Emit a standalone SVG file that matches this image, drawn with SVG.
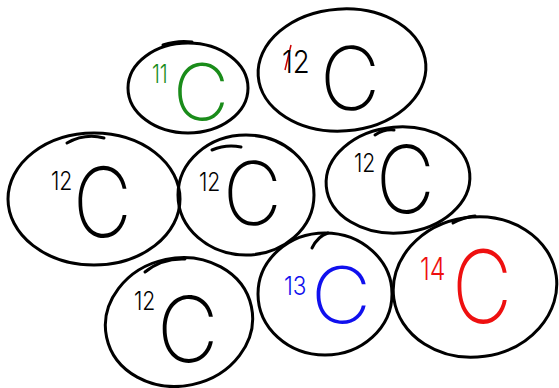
<svg xmlns="http://www.w3.org/2000/svg" width="559" height="388" viewBox="0 0 559 388">
  <style>
    .atom { fill: none; stroke: #000; stroke-width: 3; stroke-linecap: round; }
    .tick { fill: none; stroke: #000; stroke-width: 3; stroke-linecap: round; }
    .sym { font-family: Inter, "Liberation Sans", sans-serif; font-weight: 200; font-size: 92px; }
    .mass { font-family: Inter, "Liberation Sans", sans-serif; font-weight: 300; font-size: 25px; }
    .k { fill: #000; }
    .g { fill: #1a8c1a; }
    .b { fill: #1010ee; }
    .r { fill: #ee1010; }
  </style>
  <rect width="559" height="388" fill="#fff"/>

  <g id="carbon-11">
    <ellipse class="atom" cx="188" cy="88" rx="60" ry="45"/>
    <path class="tick" d="M163 45 Q178 40 192 42"/>
    <text class="mass g" x="152" y="83" transform="translate(152 83) scale(0.8 1.05) translate(-152 -83)">11</text>
    <text class="sym g" x="173" y="120" transform="translate(173 120) scale(0.84 0.85) translate(-173 -120)">C</text>
  </g>

  <g id="carbon-12-a">
    <ellipse class="atom" cx="342" cy="70" rx="84" ry="61" transform="rotate(-4 342 70)"/>
    <path d="M291 45 L285 70" stroke="#c00" stroke-width="1.5" fill="none"/>
    <text class="mass k" x="282" y="73" transform="translate(282 73) scale(1.1 1.25) translate(-282 -73)">12</text>
    <text class="sym k" x="320" y="110" transform="translate(320 110) scale(0.9 0.95) translate(-320 -110)">C</text>
  </g>

  <g id="carbon-12-b">
    <ellipse class="atom" cx="94" cy="199" rx="86" ry="66"/>
    <path class="tick" d="M67 143 Q85 133 104 138"/>
    <text class="mass k" x="51" y="190" transform="translate(51 190) scale(0.85 1) translate(-51 -190)">12</text>
    <text class="sym k" x="73" y="237" transform="translate(73 237) scale(0.88 1.05) translate(-73 -237)">C</text>
  </g>

  <g id="carbon-12-c">
    <ellipse class="atom" cx="246" cy="195" rx="68" ry="60"/>
    <path class="tick" d="M212 150 Q226 144 241 147"/>
    <text class="mass k" x="199" y="191" transform="translate(199 191) scale(0.85 1) translate(-199 -191)">12</text>
    <text class="sym k" x="223" y="225" transform="translate(223 225) scale(0.88 0.95) translate(-223 -225)">C</text>
  </g>

  <g id="carbon-12-d">
    <ellipse class="atom" cx="398" cy="180" rx="72" ry="53" transform="rotate(-5 398 180)"/>
    <path class="tick" d="M375 135 Q384 129 394 130"/>
    <text class="mass k" x="354" y="172" transform="translate(354 172) scale(0.85 1) translate(-354 -172)">12</text>
    <text class="sym k" x="376" y="213" transform="translate(376 213) scale(0.88 1.02) translate(-376 -213)">C</text>
  </g>

  <g id="carbon-12-e">
    <ellipse class="atom" cx="179" cy="322" rx="74" ry="64" transform="rotate(-12 179 322)"/>
    <path class="tick" d="M145 272 Q162 258 185 259"/>
    <text class="mass k" x="134" y="310" transform="translate(134 310) scale(0.85 1) translate(-134 -310)">12</text>
    <text class="sym k" x="157" y="362" transform="translate(157 362) scale(0.92 0.98) translate(-157 -362)">C</text>
  </g>

  <g id="carbon-13">
    <ellipse class="atom" cx="325" cy="294" rx="67" ry="61"/>
    <path class="tick" d="M312 248 Q318 236 328 233"/>
    <text class="mass b" x="284" y="295" transform="translate(284 295) scale(0.9 1) translate(-284 -295)">13</text>
    <text class="sym b" x="311" y="323" transform="translate(311 323) scale(0.9 0.85) translate(-311 -323)">C</text>
  </g>

  <g id="carbon-14">
    <ellipse class="atom" cx="475" cy="287" rx="82" ry="70" transform="rotate(-8 475 287)"/>
    <path class="tick" d="M453 223 Q464 217 475 216"/>
    <text class="mass r" x="420" y="280" transform="translate(420 280) scale(1 1.25) translate(-420 -280)">14</text>
    <text class="sym r" x="452" y="323" transform="translate(452 323) scale(0.9 1.1) translate(-452 -323)">C</text>
  </g>

  <g id="connectors"/>
</svg>
